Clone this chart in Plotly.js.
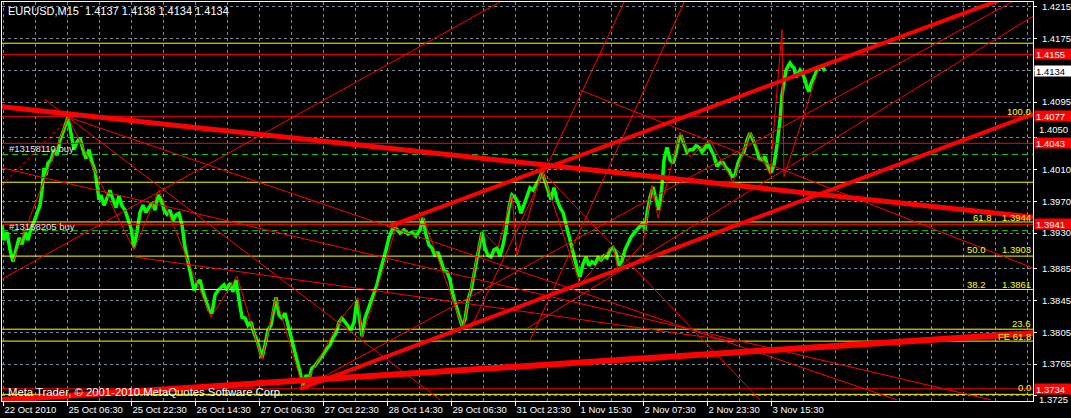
<!DOCTYPE html>
<html><head><meta charset="utf-8">
<script src="https://cdn.plot.ly/plotly-3.0.1.min.js"></script>
<style>html,body{margin:0;padding:0;background:#000;}#chart{width:1071px;height:418px;}</style>
</head><body><div id="chart"></div>
<script>
// ---------- DATA ----------
// price path: [bar index, price]
const pricePath = [[2,1.3940],[4,1.3921],[7,1.3931],[10,1.3909],[13,1.3894],[16,1.3911],[19,1.3924],[22,1.3916],[25,1.3931],[28,1.3921],[31,1.3936],[34,1.3944],[37,1.3954],[40,1.3965],[42,1.3984],[44,1.4012],[46,1.4003],[48,1.4018],[51,1.4022],[54,1.4035],[57,1.4028],[60,1.4047],[63,1.4057],[66,1.4070],[68,1.4076],[70,1.4062],[72,1.4047],[74,1.4035],[77,1.4045],[80,1.4050],[83,1.4035],[86,1.4024],[89,1.4035],[92,1.4019],[95,1.4009],[97,1.3990],[99,1.3972],[101,1.3978],[104,1.3965],[107,1.3974],[110,1.3984],[113,1.3972],[116,1.3962],[119,1.3977],[122,1.3964],[125,1.3959],[128,1.3949],[131,1.3936],[134,1.3912],[137,1.3931],[140,1.3956],[143,1.3965],[146,1.3956],[149,1.3963],[152,1.3968],[155,1.3959],[158,1.3978],[161,1.3972],[164,1.3959],[167,1.3954],[170,1.3959],[173,1.3946],[176,1.3953],[179,1.3955],[182,1.3940],[185,1.3912],[188,1.3894],[191,1.3877],[194,1.3858],[197,1.3867],[200,1.3871],[203,1.3856],[206,1.3846],[209,1.3833],[212,1.3829],[215,1.3852],[218,1.3858],[221,1.3861],[224,1.3865],[227,1.3858],[230,1.3867],[233,1.3856],[236,1.3871],[239,1.3846],[242,1.3824],[245,1.3823],[248,1.3814],[251,1.3818],[254,1.3804],[257,1.3795],[260,1.3783],[262,1.3773],[265,1.3789],[268,1.3808],[271,1.3814],[274,1.3839],[276,1.3849],[279,1.3827],[282,1.3823],[285,1.3829],[288,1.3814],[291,1.3802],[294,1.3783],[297,1.3770],[300,1.3755],[303,1.3737],[306,1.3751],[309,1.3747],[312,1.3760],[315,1.3763],[318,1.3768],[321,1.3773],[324,1.3779],[327,1.3785],[330,1.3789],[333,1.3798],[336,1.3804],[339,1.3818],[342,1.3823],[345,1.3818],[348,1.3813],[351,1.3808],[354,1.3818],[357,1.3846],[359,1.3827],[362,1.3800],[365,1.3823],[368,1.3833],[371,1.3843],[374,1.3855],[377,1.3865],[380,1.3881],[383,1.3894],[386,1.3909],[389,1.3924],[392,1.3934],[396,1.3936],[400,1.3930],[404,1.3934],[408,1.3929],[412,1.3931],[416,1.3926],[420,1.3934],[423,1.3949],[426,1.3928],[429,1.3915],[432,1.3911],[435,1.3901],[438,1.3906],[441,1.3894],[444,1.3883],[447,1.3881],[450,1.3871],[453,1.3852],[456,1.3839],[459,1.3823],[462,1.3813],[465,1.3821],[468,1.3846],[471,1.3858],[474,1.3877],[477,1.3894],[480,1.3915],[482,1.3931],[485,1.3911],[488,1.3902],[491,1.3900],[494,1.3909],[497,1.3911],[500,1.3901],[503,1.3915],[506,1.3934],[509,1.3962],[512,1.3978],[515,1.3975],[518,1.3968],[521,1.3955],[524,1.3965],[527,1.3977],[530,1.3987],[533,1.3984],[536,1.3990],[539,1.3997],[542,1.4007],[545,1.3994],[548,1.3984],[551,1.3972],[554,1.3987],[557,1.3972],[560,1.3962],[563,1.3956],[566,1.3939],[569,1.3926],[572,1.3911],[575,1.3894],[578,1.3881],[580,1.3875],[583,1.3891],[586,1.3900],[589,1.3889],[592,1.3894],[595,1.3891],[598,1.3899],[601,1.3896],[604,1.3901],[607,1.3899],[610,1.3909],[613,1.3912],[616,1.3905],[619,1.3889],[622,1.3895],[625,1.3909],[628,1.3917],[631,1.3925],[634,1.3930],[637,1.3934],[640,1.3939],[643,1.3943],[645,1.3934],[647,1.3955],[650,1.3975],[653,1.3988],[656,1.3972],[659,1.3959],[662,1.3990],[664,1.4022],[667,1.4038],[670,1.4022],[673,1.4018],[676,1.4031],[679,1.4050],[681,1.4053],[684,1.4042],[687,1.4032],[690,1.4035],[693,1.4035],[696,1.4040],[699,1.4038],[702,1.4032],[705,1.4037],[708,1.4043],[711,1.4035],[714,1.4027],[717,1.4014],[720,1.4019],[723,1.4019],[726,1.4012],[729,1.4009],[732,1.4001],[735,1.4003],[738,1.4018],[741,1.4027],[744,1.4032],[747,1.4047],[750,1.4056],[753,1.4047],[756,1.4038],[759,1.4024],[762,1.4022],[765,1.4026],[768,1.4013],[771,1.4006],[774,1.4016],[777,1.4041],[780,1.4072],[782,1.4104],[784,1.4123],[786,1.4135],[788,1.4140],[790,1.4144],[792,1.4140],[794,1.4138],[796,1.4126],[798,1.4130],[800,1.4135],[803,1.4129],[805,1.4123],[807,1.4113],[809,1.4108],[811,1.4118],[814,1.4128],[817,1.4135],[820,1.4139],[823,1.4138],[825,1.4134]];

// ZigZag swing points
const zigzagBars   = [13,68,134,159,211,237,262,276,303,342,358,362,397,423,463,482,498,512,517,542,580,613,618,643,652,658,680,690,710,733,750,770,782,784,820];
const zigzagPrices = [1.3894,1.4076,1.3909,1.3984,1.3824,1.3876,1.3771,1.3849,1.3735,1.3824,1.3849,1.3798,1.3941,1.3950,1.3810,1.3933,1.3912,1.3978,1.3902,1.4009,1.3865,1.3915,1.3883,1.3917,1.3990,1.3949,1.4057,1.4026,1.4047,1.3994,1.4057,1.4003,1.4186,1.4001,1.4142];

// thick trendlines (channel / resistance)
const thickFromBar   = [2, 390, 300, 2];
const thickFromPrice = [1.4089, 1.3939, 1.3734, 1.3720];
const thickToBar     = [1033, 1033, 1033, 1033];
const thickToPrice   = [1.3950, 1.4239, 1.4080, 1.3804];
const thickWidth     = [5, 4, 4, 6];

// thin trendlines / fan lines
const thinFromBar   = [2, 45, 68, 68, 2, 580, 541, 134, 470, 530, 303, 527];
const thinFromPrice = [1.3872, 1.4098, 1.4076, 1.4076, 1.4012, 1.4110, 1.4009, 1.3900, 1.3808, 1.3795, 1.3735, 1.3810];
const thinToBar     = [503, 68, 440, 897, 991, 1033, 760, 740, 625, 685, 1015, 1033];
const thinToPrice   = [1.4223, 1.4076, 1.3720, 1.3720, 1.3720, 1.3886, 1.3720, 1.3793, 1.4223, 1.4223, 1.4223, 1.4203];
const dottedFrom = [2, 1.3990], dottedTo = [68, 1.4074];

// horizontal levels
const redLevels    = [1.4155, 1.4077, 1.4043, 1.3941, 1.3734];
const yellowLevels = [1.4169, 1.3994, 1.3944, 1.3901, 1.3859, 1.3809, 1.3794, 1.3727];
const orderLevels  = [1.4029, 1.3933];
const orderNames   = ['#13158110 buy', '#13158205 buy'];
const bidPrice = 1.4134;

// fibonacci captions
const fibNames      = ['100.0', '61.8', '50.0', '38.2', '23.6', 'FE 61.8', '0.0'];
const fibValueTexts = ['', '1.3944', '1.3903', '1.3861', '', '', ''];

// axes
const priceTicks = [1.4215, 1.4175, 1.4135, 1.4095, 1.4050, 1.4010, 1.3970, 1.3930, 1.3885, 1.3845, 1.3805, 1.3765, 1.3725];
const priceTickText = ['1.4215','1.4175','','1.4095','','1.4010','1.3970','1.3930','1.3885','1.3845','1.3805','1.3765',''];
// tick labels that sit next to price boxes, drawn just clear of them
const nudgedTickPrices = [1.4050, 1.3725];
const nudgedTickAbove  = [true, false];
const dateTickBars = [3.5, 67.5, 131.5, 195.5, 259.5, 323.5, 387.5, 451.5, 515.5, 579.5, 643.5, 707.5, 771.5];
const dateTickLabels = ['22 Oct 2010','25 Oct 06:30','25 Oct 22:30','26 Oct 14:30','27 Oct 06:30','27 Oct 22:30','28 Oct 14:30','29 Oct 06:30','31 Oct 23:30','1 Nov 15:30','2 Nov 07:30','2 Nov 23:30','3 Nov 15:30'];
const headerText = 'EURUSD,M15  1.4137 1.4138 1.4134 1.4134';
const copyrightText = 'Meta Trader, \u00a9 2001-2010 MetaQuotes Software Corp.';

// ---------- STYLE ----------
const FONT = 'Liberation Sans, Arial, sans-serif';
const RED = '#ff0000', YEL = '#ffff00', GRN = '#00ff00', GRID = '#778899';
const X0 = 2, X1 = 1033;
const Y0 = 1.37186, Y1 = 1.42209;

const traces = [];
traces.push({x: pricePath.map(p => p[0]), y: pricePath.map(p => p[1]), mode: 'lines',
  line: {color: GRN, width: 3.5}, hoverinfo: 'skip'});
yellowLevels.forEach(v => traces.push({x: [X0, X1], y: [v, v], mode: 'lines', line: {color: YEL, width: 1}, hoverinfo: 'skip'}));
orderLevels.forEach(v => traces.push({x: [X0, X1], y: [v, v], mode: 'lines', line: {color: '#22cc22', width: 1, dash: '6px,4px'}, hoverinfo: 'skip'}));
redLevels.forEach(v => traces.push({x: [X0, X1], y: [v, v], mode: 'lines', line: {color: RED, width: 1}, hoverinfo: 'skip'}));
thinFromBar.forEach((b, i) => traces.push({x: [b, thinToBar[i]], y: [thinFromPrice[i], thinToPrice[i]], mode: 'lines', line: {color: RED, width: 1}, hoverinfo: 'skip'}));
traces.push({x: [dottedFrom[0], dottedTo[0]], y: [dottedFrom[1], dottedTo[1]], mode: 'lines', line: {color: RED, width: 1, dash: 'dot'}, hoverinfo: 'skip'});
traces.push({x: zigzagBars, y: zigzagPrices, mode: 'lines', line: {color: RED, width: 1}, hoverinfo: 'skip'});
thickFromBar.forEach((b, i) => traces.push({x: [b, thickToBar[i]], y: [thickFromPrice[i], thickToPrice[i]], mode: 'lines', line: {color: RED, width: thickWidth[i]}, hoverinfo: 'skip'}));

const W = 1071, H = 418, ML = 2, MR = 38, MT = 2, MB = 17;
const px = v => (v - ML) / (W - ML - MR);
const py = v => (H - MB - v) / (H - MT - MB);

const ann = [];
const txt = (text, x, y, color, xanchor, size) => ann.push({text, xref: 'paper', yref: 'paper', x: px(x), y: py(y), xanchor: xanchor || 'left', yanchor: 'middle', showarrow: false, font: {family: FONT, size: size || 9.5, color}});
txt(headerText, 6, 11, '#ffffff', 'left', 11);
txt(orderNames[0], 7, 148, '#e8e8e8');
txt(orderNames[1], 7, 226, '#e8e8e8');
txt(copyrightText, 6, 392, '#ffffff', 'left', 11.3);
const fibY = [111, 217.7, 249.5, 284, 323.3, 336.5, 387.7];
const fibNameX = [1033, 971, 965, 965, 1033, 1033, 1033];
fibNames.forEach((n, i) => {
  if (fibValueTexts[i]) { txt(n, fibNameX[i], fibY[i], YEL, 'left'); txt(fibValueTexts[i], 1033, fibY[i], YEL, 'right'); }
  else txt(n, fibNameX[i], fibY[i], YEL, 'right');
});
nudgedTickPrices.forEach((v, i) => ann.push({text: v.toFixed(4), xref: 'paper', yref: 'y', x: 1, y: v, xanchor: 'left',
  yanchor: nudgedTickAbove[i] ? 'bottom' : 'top', yshift: nudgedTickAbove[i] ? 2 : 3, xshift: 5, showarrow: false,
  borderpad: 0, font: {family: FONT, size: 9.5, color: '#ffffff'}}));
redLevels.forEach(v => ann.push({text: v.toFixed(4), xref: 'paper', yref: 'y', x: 1, y: v, xanchor: 'left', yanchor: 'middle', xshift: 1, showarrow: false,
  bgcolor: RED, width: 34, height: 8, borderpad: 1, align: 'left', font: {family: FONT, size: 9.5, color: '#ffffff'}}));
ann.push({text: bidPrice.toFixed(4), xref: 'paper', yref: 'y', x: 1, y: bidPrice, xanchor: 'left', yanchor: 'middle', xshift: 1, showarrow: false,
  bgcolor: '#ffffff', width: 34, height: 8, borderpad: 1, align: 'left', font: {family: FONT, size: 9.5, color: '#000000'}});

const layout = {
  width: W, height: H, paper_bgcolor: '#000000', plot_bgcolor: '#000000', showlegend: false,
  margin: {l: ML, r: MR, t: MT, b: MB, pad: 0},
  xaxis: {range: [X0, X1], tickmode: 'array', tickvals: dateTickBars, ticktext: dateTickLabels,
    ticks: 'outside', ticklen: 4, tickcolor: '#ffffff', ticklabelposition: 'outside right',
    tickfont: {family: FONT, size: 9.5, color: '#ffffff'},
    showgrid: true, gridcolor: GRID, griddash: '3px,3px', gridwidth: 1,
    minor: {tick0: 3.5, dtick: 32, showgrid: true, gridcolor: GRID, griddash: '3px,3px', gridwidth: 1, ticks: ''},
    showline: true, linecolor: '#ffffff', linewidth: 1, mirror: true, zeroline: false, automargin: false, fixedrange: true},
  yaxis: {range: [Y0, Y1], side: 'right', tickmode: 'array', tickvals: priceTicks, ticktext: priceTickText,
    ticks: 'outside', ticklen: 3, tickcolor: '#ffffff', ticklabelstandoff: 3,
    tickfont: {family: FONT, size: 9.5, color: '#ffffff'},
    showgrid: true, gridcolor: GRID, griddash: '3px,3px', gridwidth: 1,
    showline: true, linecolor: '#ffffff', linewidth: 1, mirror: true, zeroline: false, automargin: false, fixedrange: true},
  annotations: ann
};
Plotly.newPlot('chart', traces, layout, {displayModeBar: false, staticPlot: true});
</script></body></html>
